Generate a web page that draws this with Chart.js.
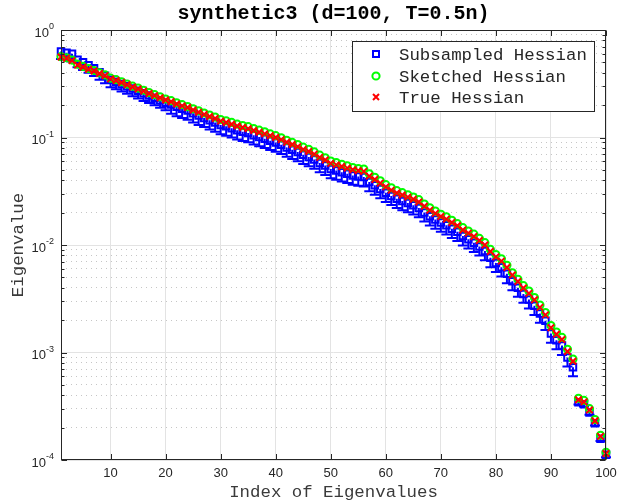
<!DOCTYPE html>
<html><head><meta charset="utf-8">
<script src="https://cdn.jsdelivr.net/npm/chart.js@4/dist/chart.umd.min.js"></script>
<style>html,body{margin:0;padding:0;background:#fff}#wrap{width:618px;height:503px;position:relative}</style>
</head><body><div id="wrap"><canvas id="c" width="618" height="503"></canvas></div>
<script>
const indices = [1,2,3,4,5,6,7,8,9,10,11,12,13,14,15,16,17,18,19,20,21,22,23,24,25,26,27,28,29,30,31,32,33,34,35,36,37,38,39,40,41,42,43,44,45,46,47,48,49,50,51,52,53,54,55,56,57,58,59,60,61,62,63,64,65,66,67,68,69,70,71,72,73,74,75,76,77,78,79,80,81,82,83,84,85,86,87,88,89,90,91,92,93,94,95,96,97,98,99,100];

const subsampled = [0.630,0.615,0.600,0.530,0.500,0.470,0.440,0.405,0.375,0.345,
0.330,0.315,0.300,0.285,0.272,0.258,0.246,0.234,0.222,0.211,
0.203,0.193,0.185,0.178,0.168,0.160,0.152,0.145,0.138,0.131,
0.127,0.122,0.117,0.113,0.110,0.105,0.101,0.0972,0.0934,0.0897,
0.0856,0.0808,0.0770,0.0734,0.0692,0.0660,0.0623,0.0580,0.0548,0.0510,
0.0493,0.0476,0.0460,0.0444,0.0434,0.0428,0.0386,0.0359,0.0332,0.0306,
0.0286,0.0269,0.0257,0.0246,0.0234,0.0221,0.0201,0.0185,0.0173,0.0162,
0.0153,0.0142,0.0133,0.0121,0.0113,0.0105,0.0097,0.0088,0.0076,0.0068,
0.0062,0.0054,0.0046,0.0040,0.0035,0.00312,0.00272,0.00231,0.00197,0.00150,
0.00130,0.00116,0.00090,0.00073,0.000345,0.000330,0.000277,0.000220,0.000158,0.000112];

const subsampledLow = [0.536,0.523,0.510,0.450,0.425,0.400,0.374,0.344,0.319,0.293,
0.281,0.268,0.255,0.242,0.231,0.219,0.209,0.199,0.189,0.179,
0.166,0.158,0.152,0.146,0.138,0.131,0.125,0.119,0.113,0.107,
0.104,0.100,0.0959,0.0927,0.0902,0.0861,0.0828,0.0797,0.0766,0.0736,
0.0702,0.0663,0.0631,0.0602,0.0567,0.0541,0.0511,0.0476,0.0449,0.0418,
0.0404,0.0390,0.0377,0.0364,0.0356,0.0351,0.0317,0.0294,0.0272,0.0251,
0.0235,0.0221,0.0211,0.0202,0.0192,0.0181,0.0165,0.0152,0.0142,0.0133,
0.0125,0.0116,0.0109,0.0099,0.0093,0.0086,0.0080,0.0072,0.0062,0.0056,
0.0051,0.0044,0.0038,0.0033,0.0029,0.00256,0.00223,0.00189,0.00162,0.00123,
0.00107,0.00095,0.00074,0.00060,0.000328,0.000314,0.000263,0.000209,0.000150,0.000106];

const sketched = [0.565,0.552,0.525,0.480,0.458,0.437,0.420,0.400,0.382,0.356,
0.345,0.330,0.314,0.300,0.288,0.275,0.262,0.250,0.239,0.228,
0.220,0.210,0.202,0.194,0.185,0.177,0.169,0.162,0.155,0.147,
0.143,0.138,0.133,0.129,0.126,0.121,0.117,0.113,0.108,0.104,
0.0995,0.0942,0.0900,0.0860,0.0812,0.0776,0.0734,0.0685,0.0648,0.0604,
0.0584,0.0564,0.0545,0.0526,0.0515,0.0508,0.0459,0.0427,0.0395,0.0364,
0.0340,0.0320,0.0307,0.0293,0.0279,0.0264,0.0240,0.0222,0.0207,0.0193,
0.0183,0.0170,0.0158,0.0145,0.0135,0.0126,0.0115,0.0105,0.0091,0.00815,
0.00743,0.00648,0.00551,0.00480,0.00418,0.00373,0.00324,0.00276,0.00235,0.00178,
0.00155,0.00138,0.00107,0.00087,0.000375,0.000358,0.000300,0.000238,0.000170,0.000118];

const trueHessian = [0.560,0.547,0.519,0.473,0.452,0.431,0.415,0.394,0.376,0.351,
0.339,0.325,0.309,0.295,0.283,0.270,0.257,0.245,0.234,0.223,
0.215,0.205,0.197,0.190,0.180,0.172,0.164,0.157,0.150,0.142,
0.138,0.133,0.128,0.124,0.121,0.116,0.112,0.108,0.104,0.100,
0.0955,0.0902,0.0861,0.0822,0.0776,0.0741,0.0700,0.0653,0.0617,0.0575,
0.0556,0.0537,0.0519,0.0501,0.0490,0.0484,0.0437,0.0407,0.0376,0.0347,
0.0324,0.0305,0.0292,0.0279,0.0266,0.0251,0.0229,0.0211,0.0197,0.0184,
0.0174,0.0162,0.0151,0.0138,0.0129,0.0120,0.0110,0.0100,0.0087,0.00776,
0.00708,0.00617,0.00525,0.00457,0.00398,0.00355,0.00309,0.00263,0.00224,0.00170,
0.00148,0.00132,0.00102,0.00083,0.000363,0.000347,0.000292,0.000232,0.000166,0.000115];

const seriesNames = ['Subsampled Hessian','Sketched Hessian','True Hessian'];
const titleText = 'synthetic3 (d=100, T=0.5n)';
const xTitle = 'Index of Eigenvalues';
const yTitle = 'Eigenvalue';
const xTicks = [10,20,30,40,50,60,70,80,90,100];
const yMajorTicks = [1e-4,1e-3,1e-2,1e-1,1];
const yTickLabels = [['10','-4'],['10','-3'],['10','-2'],['10','-1'],['10','0']];
const yMinorTicks = [2e-4,3e-4,4e-4,5e-4,6e-4,7e-4,8e-4,9e-4,
  2e-3,3e-3,4e-3,5e-3,6e-3,7e-3,8e-3,9e-3,
  2e-2,3e-2,4e-2,5e-2,6e-2,7e-2,8e-2,9e-2,
  0.2,0.3,0.4,0.5,0.6,0.7,0.8,0.9];

const MONO = '"Liberation Mono", "Courier New", monospace';
const SANS = '"Liberation Sans", Arial, Helvetica, sans-serif';
const AX = '#262626';

const pts = arr => indices.map((v,i)=>({x:v,y:arr[i]}));

const customPlugin = {
  id: 'matlabLook',
  beforeDatasetsDraw(chart){
    const {ctx, scales:{x,y}} = chart;
    ctx.save();
    ctx.strokeStyle = '#0000ff';
    ctx.lineWidth = 2;
    for (let i=0;i<indices.length;i++){
      const px = x.getPixelForValue(indices[i]);
      const yt = y.getPixelForValue(subsampled[i]);
      const yl = y.getPixelForValue(subsampledLow[i]);
      ctx.beginPath();
      ctx.moveTo(px,yt); ctx.lineTo(px,yl);
      ctx.moveTo(px-5,yl); ctx.lineTo(px+5,yl);
      ctx.stroke();
    }
    ctx.restore();
  },
  afterDraw(chart){
    const {ctx, chartArea:a, scales:{x,y}} = chart;
    ctx.save();
    ctx.strokeStyle = AX; ctx.lineWidth = 1;
    const L = Math.round(a.left)+0.5, R = Math.round(a.right)-0.5, T = Math.round(a.top)+0.5, B = Math.round(a.bottom)-0.5;
    ctx.strokeRect(L, T, R-L, B-T);
    ctx.beginPath();
    xTicks.forEach(v=>{
      const px = Math.round(x.getPixelForValue(v))+0.5;
      ctx.moveTo(px,B); ctx.lineTo(px,B-5.5);
      ctx.moveTo(px,T); ctx.lineTo(px,T+5.5);
    });
    yMajorTicks.forEach(v=>{
      const py = Math.round(y.getPixelForValue(v))+0.5;
      ctx.moveTo(L,py); ctx.lineTo(L+5.5,py);
      ctx.moveTo(R,py); ctx.lineTo(R-5.5,py);
    });
    yMinorTicks.forEach(v=>{
      const py = Math.round(y.getPixelForValue(v))+0.5;
      ctx.moveTo(L,py); ctx.lineTo(L+3,py);
      ctx.moveTo(R,py); ctx.lineTo(R-3,py);
    });
    ctx.stroke();
    ctx.fillStyle = AX;
    yMajorTicks.forEach((v,i)=>{
      const py = y.getPixelForValue(v);
      const [base, exp] = yTickLabels[i];
      ctx.font = '9px ' + SANS;
      const ew = ctx.measureText(exp).width;
      const xr = a.left - 7;
      ctx.textAlign = 'right'; ctx.textBaseline = 'middle';
      ctx.fillText(exp, xr, py - 3);
      ctx.font = '13px ' + SANS;
      ctx.fillText(base, xr - ew, py + 3);
    });
    ctx.fillStyle = '#000';
    ctx.font = 'bold 20px ' + MONO;
    ctx.textAlign = 'center'; ctx.textBaseline = 'middle';
    ctx.fillText(titleText, (a.left+a.right)/2, 14);
    const bx = 352.5, by = 41.5, bw = 242, bh = 70;
    ctx.fillStyle = '#fff';
    ctx.fillRect(bx, by, bw, bh);
    ctx.strokeStyle = AX; ctx.lineWidth = 1;
    ctx.strokeRect(bx, by, bw, bh);
    const rows = [54, 76, 97];
    const mx = 376;
    ctx.lineWidth = 2;
    ctx.strokeStyle = '#0000ff';
    ctx.strokeRect(mx-3, rows[0]-3, 6, 6);
    ctx.strokeStyle = '#00ff00';
    ctx.beginPath(); ctx.arc(mx, rows[1], 3.6, 0, Math.PI*2); ctx.stroke();
    ctx.strokeStyle = '#ff0000';
    ctx.beginPath();
    ctx.moveTo(mx-3, rows[2]-3); ctx.lineTo(mx+3, rows[2]+3);
    ctx.moveTo(mx+3, rows[2]-3); ctx.lineTo(mx-3, rows[2]+3);
    ctx.stroke();
    ctx.fillStyle = AX;
    ctx.font = '17.4px ' + MONO;
    ctx.textAlign = 'left'; ctx.textBaseline = 'middle';
    seriesNames.forEach((s,i)=> ctx.fillText(s, 399, rows[i]+1));
    ctx.restore();
  }
};

new Chart(document.getElementById('c'), {
  type: 'scatter',
  data: {
    datasets: [
      {label: seriesNames[0], data: pts(subsampled), pointStyle:'rect', pointRadius:4.6, pointBorderWidth:2,
       borderColor:'#0000ff', backgroundColor:'rgba(0,0,0,0)', showLine:false, order:3, clip:false},
      {label: seriesNames[1], data: pts(sketched), pointStyle:'circle', pointRadius:3.6, pointBorderWidth:2,
       borderColor:'#00ff00', backgroundColor:'rgba(0,0,0,0)', showLine:false, order:2, clip:false},
      {label: seriesNames[2], data: pts(trueHessian), pointStyle:'crossRot', pointRadius:4.6, pointBorderWidth:2,
       borderColor:'#ff0000', backgroundColor:'#ff0000', showLine:false, order:1, clip:false}
    ]
  },
  options: {
    responsive: false,
    animation: false,
    devicePixelRatio: 1,
    layout: {padding: {left: 8, right: 12, top: 30, bottom: 0}},
    plugins: {legend: {display:false}, tooltip: {enabled:false}, title:{display:false}},
    scales: {
      x: {
        type:'linear', min:1, max:100,
        afterBuildTicks: s => { s.ticks = xTicks.map(v=>({value:v})); },
        afterFit: s => { s.height = 43; s.paddingLeft = 0; s.paddingRight = 0; },
        grid: {color:'#e3e3e3', lineWidth:1, drawTicks:false},
        border: {display:false},
        ticks: {font:{family:SANS, size:13}, color:AX, padding:6, maxRotation:0, autoSkip:false,
                callback: v => String(v)},
        title: {display:true, text:xTitle, font:{family:MONO, size:17.4}, color:'#3a3a3a', padding:{top:0,bottom:0}}
      },
      y: {
        type:'logarithmic', min:1e-4, max:1, position:'left',
        afterBuildTicks: s => { s.ticks = yMajorTicks.map(v=>({value:v})); },
        afterFit: s => { s.width = 53; s.paddingTop = 0; s.paddingBottom = 0; },
        grid: {color:'#e3e3e3', lineWidth:1, drawTicks:false},
        border: {display:false},
        ticks: {display:false},
        title: {display:true, text:yTitle, font:{family:MONO, size:17.4}, color:'#3a3a3a', padding:{top:0,bottom:0}}
      },
      yMinor: {
        type:'logarithmic', min:1e-4, max:1, position:'right',
        afterBuildTicks: s => { s.ticks = yMinorTicks.map(v=>({value:v})); },
        afterFit: s => { s.width = 0; s.paddingTop = 0; s.paddingBottom = 0; },
        grid: {color:'#c6c6c6', lineWidth:1, drawTicks:false},
        border: {display:false, dash:[1,4]},
        ticks: {display:false}
      }
    }
  },
  plugins: [customPlugin]
});
</script></body></html>
